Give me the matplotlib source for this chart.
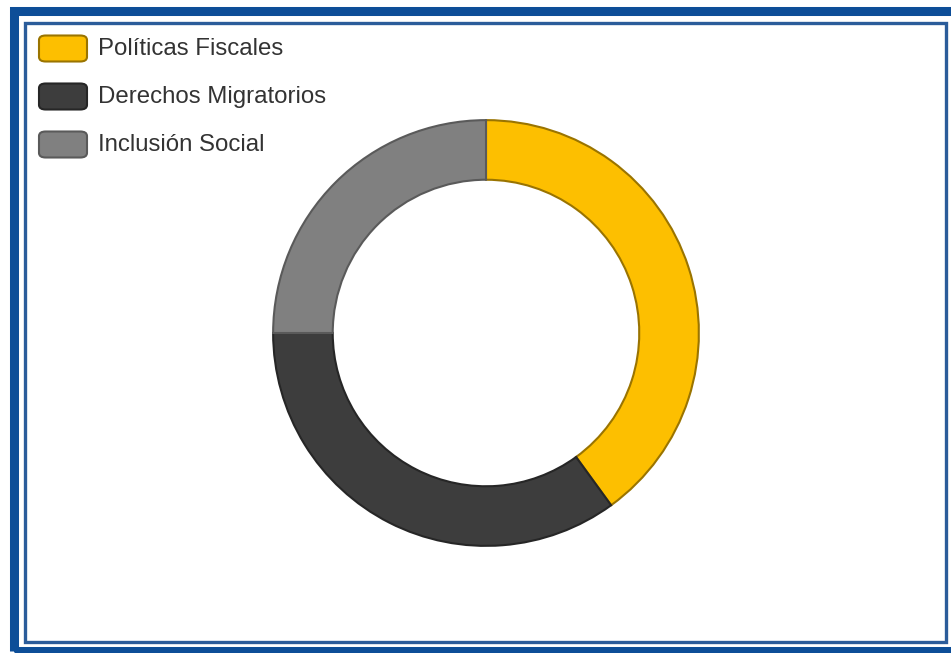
import matplotlib.pyplot as plt
from matplotlib.patches import FancyBboxPatch, Rectangle

# Share of attention by policy area
labels = ['Políticas Fiscales', 'Derechos Migratorios', 'Inclusión Social']
values = [40, 35, 25]
colors = ['#FDBF00', '#3D3D3D', '#808080']
edges = ['#9A7400', '#262626', '#5A5A5A']

W, H = 951, 653
fig = plt.figure(figsize=(W / 100, H / 100), dpi=100)
fig.patch.set_facecolor('white')

# double blue frame
fig.patches.append(Rectangle((14 / W, (H - 651) / H), (W + 30) / W, (651 - 11) / H,
                             transform=fig.transFigure, fill=False,
                             edgecolor='#0D4E98', linewidth=6.5))
fig.patches.append(Rectangle((25 / W, (H - 642) / H), (946 - 25) / W, (642 - 23) / H,
                             transform=fig.transFigure, fill=False,
                             edgecolor='#2B5C9A', linewidth=2.4))

# donut
cx, cy, r = 486, 333, 215
ax = fig.add_axes([(cx - r) / W, (H - cy - r) / H, 2 * r / W, 2 * r / H])
ax.pie(values, colors=colors, startangle=90, counterclock=False, radius=1,
       wedgeprops=dict(width=0.28, linewidth=1.5))
for w, ec in zip(ax.patches, edges):
    w.set_edgecolor(ec)
ax.set_xlim(-1.01, 1.01)
ax.set_ylim(-1.01, 1.01)
ax.set_aspect('equal')
ax.axis('off')

# legend
for i, (lab, c, ec) in enumerate(zip(labels, colors, edges)):
    yc = 48.5 + i * 48
    box = FancyBboxPatch((39 / W, (H - yc - 13) / H), 48 / W, 26 / H,
                         boxstyle='round,pad=0,rounding_size=0.007',
                         transform=fig.transFigure, facecolor=c,
                         edgecolor=ec, linewidth=1.5)
    fig.patches.append(box)
    fig.text(98 / W, (H - 55 - i * 48) / H, lab, fontsize=17.3, color='#333333',
             family='Liberation Sans', va='baseline', ha='left')

fig.savefig('out.png', dpi=100)
